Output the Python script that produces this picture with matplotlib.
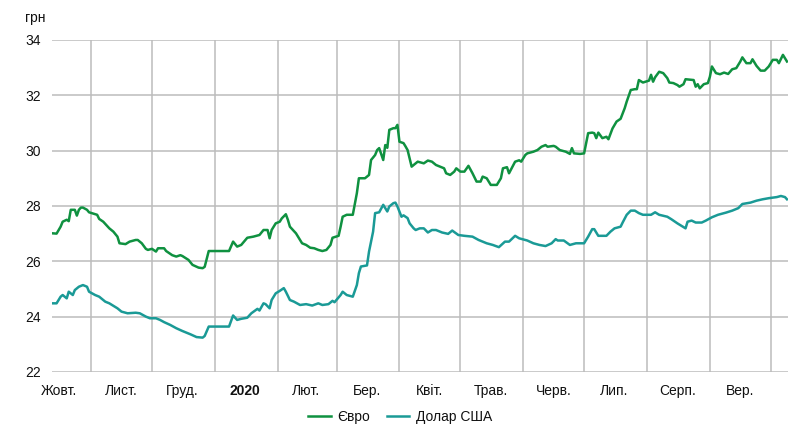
import matplotlib
matplotlib.use("Agg")
import matplotlib.pyplot as plt
import pandas as pd

# курси гривні
euro_dates = [
    "2019-10-13", "2019-10-15", "2019-10-17", "2019-10-18", "2019-10-20", "2019-10-21", "2019-10-22",
    "2019-10-24", "2019-10-25", "2019-10-26", "2019-10-27", "2019-10-28", "2019-10-30", "2019-10-31",
    "2019-11-04", "2019-11-05", "2019-11-07", "2019-11-10", "2019-11-12", "2019-11-14", "2019-11-15",
    "2019-11-18", "2019-11-20", "2019-11-23", "2019-11-24", "2019-11-26", "2019-11-28", "2019-11-29",
    "2019-12-01", "2019-12-03", "2019-12-04", "2019-12-07", "2019-12-08", "2019-12-11", "2019-12-13",
    "2019-12-15", "2019-12-16", "2019-12-19", "2019-12-21", "2019-12-24", "2019-12-26", "2019-12-27",
    "2019-12-29", "2020-01-03", "2020-01-08", "2020-01-10", "2020-01-12", "2020-01-14", "2020-01-17",
    "2020-01-20", "2020-01-23", "2020-01-25", "2020-01-27", "2020-01-28", "2020-01-29", "2020-01-31",
    "2020-02-02", "2020-02-03", "2020-02-05", "2020-02-06", "2020-02-07", "2020-02-10", "2020-02-11",
    "2020-02-13", "2020-02-15", "2020-02-17", "2020-02-19", "2020-02-21", "2020-02-23", "2020-02-25",
    "2020-02-27", "2020-02-28", "2020-03-02", "2020-03-03", "2020-03-04", "2020-03-06", "2020-03-09",
    "2020-03-11", "2020-03-12", "2020-03-15", "2020-03-17", "2020-03-18", "2020-03-20", "2020-03-21",
    "2020-03-22", "2020-03-24", "2020-03-25", "2020-03-26", "2020-03-27", "2020-03-29", "2020-03-30",
    "2020-03-31", "2020-04-01", "2020-04-03", "2020-04-04", "2020-04-05", "2020-04-07", "2020-04-09",
    "2020-04-10", "2020-04-13", "2020-04-15", "2020-04-17", "2020-04-19", "2020-04-23", "2020-04-24",
    "2020-04-26", "2020-04-28", "2020-04-29", "2020-05-01", "2020-05-03", "2020-05-05", "2020-05-07",
    "2020-05-09", "2020-05-11", "2020-05-12", "2020-05-14", "2020-05-16", "2020-05-19", "2020-05-21",
    "2020-05-22", "2020-05-24", "2020-05-25", "2020-05-28", "2020-05-30", "2020-05-31", "2020-06-02",
    "2020-06-03", "2020-06-06", "2020-06-08", "2020-06-10", "2020-06-12", "2020-06-13", "2020-06-16",
    "2020-06-17", "2020-06-19", "2020-06-22", "2020-06-24", "2020-06-25", "2020-06-26", "2020-06-29",
    "2020-07-01", "2020-07-03", "2020-07-05", "2020-07-06", "2020-07-07", "2020-07-08", "2020-07-10",
    "2020-07-12", "2020-07-13", "2020-07-15", "2020-07-17", "2020-07-19", "2020-07-21", "2020-07-22",
    "2020-07-24", "2020-07-26", "2020-07-27", "2020-07-28", "2020-07-30", "2020-08-02", "2020-08-03",
    "2020-08-04", "2020-08-05", "2020-08-07", "2020-08-09", "2020-08-11", "2020-08-12", "2020-08-14",
    "2020-08-16", "2020-08-17", "2020-08-19", "2020-08-20", "2020-08-24", "2020-08-25", "2020-08-26",
    "2020-08-27", "2020-08-29", "2020-08-31", "2020-09-01", "2020-09-02", "2020-09-04", "2020-09-06",
    "2020-09-08", "2020-09-10", "2020-09-12", "2020-09-14", "2020-09-16", "2020-09-17", "2020-09-19",
    "2020-09-21", "2020-09-22", "2020-09-24", "2020-09-26", "2020-09-28", "2020-09-30", "2020-10-02",
    "2020-10-04", "2020-10-05", "2020-10-07", "2020-10-08", "2020-10-09",
]
euro_values = [
    27.01, 27.00, 27.25, 27.43, 27.50, 27.45, 27.86,
    27.86, 27.65, 27.86, 27.94, 27.94, 27.86, 27.77,
    27.68, 27.53, 27.43, 27.19, 27.07, 26.89, 26.65,
    26.62, 26.71, 26.77, 26.77, 26.65, 26.45, 26.41,
    26.45, 26.35, 26.47, 26.47, 26.37, 26.22, 26.17,
    26.22, 26.19, 26.05, 25.87, 25.77, 25.75, 25.80,
    26.37, 26.37, 26.37, 26.71, 26.53, 26.59, 26.85,
    26.89, 26.95, 27.13, 27.13, 26.83, 27.13, 27.37,
    27.43, 27.55, 27.70, 27.50, 27.25, 27.01, 26.89,
    26.65, 26.59, 26.49, 26.47, 26.41, 26.37, 26.41,
    26.59, 26.85, 26.92, 27.25, 27.61, 27.68, 27.68,
    28.46, 29.00, 29.00, 29.12, 29.66, 29.84, 30.02,
    30.09, 29.66, 30.20, 30.10, 30.75, 30.81, 30.81,
    30.93, 30.32, 30.27, 30.15, 30.02, 29.42, 29.54,
    29.60, 29.54, 29.64, 29.60, 29.48, 29.36, 29.18,
    29.12, 29.24, 29.36, 29.24, 29.24, 29.45, 29.18,
    28.88, 28.88, 29.06, 29.00, 28.76, 28.76, 29.00,
    29.36, 29.40, 29.18, 29.60, 29.65, 29.60, 29.84,
    29.90, 29.96, 30.02, 30.14, 30.20, 30.14, 30.17,
    30.14, 30.02, 29.96, 29.88, 30.09, 29.90, 29.88,
    29.90, 30.63, 30.65, 30.63, 30.45, 30.65, 30.45,
    30.50, 30.41, 30.80, 31.05, 31.15, 31.53, 31.77,
    32.19, 32.22, 32.22, 32.55, 32.46, 32.53, 32.74,
    32.49, 32.65, 32.85, 32.80, 32.62, 32.46, 32.44,
    32.37, 32.31, 32.40, 32.58, 32.55, 32.31, 32.40,
    32.25, 32.40, 32.44, 32.67, 33.04, 32.80, 32.76,
    32.82, 32.77, 32.94, 32.98, 33.22, 33.37, 33.16,
    33.16, 33.30, 33.06, 32.89, 32.89, 33.04, 33.28,
    33.28, 33.16, 33.46, 33.34, 33.22,
]

usd_dates = [
    "2019-10-13", "2019-10-15", "2019-10-17", "2019-10-18", "2019-10-20", "2019-10-21", "2019-10-23",
    "2019-10-24", "2019-10-26", "2019-10-28", "2019-10-30", "2019-10-31", "2019-11-03", "2019-11-05",
    "2019-11-08", "2019-11-10", "2019-11-14", "2019-11-16", "2019-11-19", "2019-11-23", "2019-11-25",
    "2019-11-28", "2019-11-30", "2019-12-03", "2019-12-05", "2019-12-07", "2019-12-10", "2019-12-13",
    "2019-12-16", "2019-12-20", "2019-12-23", "2019-12-26", "2019-12-27", "2019-12-29", "2020-01-03",
    "2020-01-08", "2020-01-10", "2020-01-12", "2020-01-14", "2020-01-17", "2020-01-19", "2020-01-22",
    "2020-01-23", "2020-01-25", "2020-01-26", "2020-01-28", "2020-01-29", "2020-01-31", "2020-02-02",
    "2020-02-04", "2020-02-05", "2020-02-07", "2020-02-09", "2020-02-12", "2020-02-15", "2020-02-18",
    "2020-02-21", "2020-02-23", "2020-02-26", "2020-02-28", "2020-02-29", "2020-03-03", "2020-03-04",
    "2020-03-06", "2020-03-09", "2020-03-11", "2020-03-12", "2020-03-13", "2020-03-16", "2020-03-17",
    "2020-03-19", "2020-03-20", "2020-03-22", "2020-03-24", "2020-03-26", "2020-03-27", "2020-03-29",
    "2020-03-30", "2020-03-31", "2020-04-02", "2020-04-03", "2020-04-05", "2020-04-06", "2020-04-08",
    "2020-04-09", "2020-04-11", "2020-04-13", "2020-04-15", "2020-04-17", "2020-04-19", "2020-04-22",
    "2020-04-25", "2020-04-27", "2020-04-30", "2020-05-03", "2020-05-07", "2020-05-10", "2020-05-14",
    "2020-05-17", "2020-05-20", "2020-05-23", "2020-05-25", "2020-05-28", "2020-05-30", "2020-06-03",
    "2020-06-06", "2020-06-09", "2020-06-12", "2020-06-15", "2020-06-17", "2020-06-18", "2020-06-21",
    "2020-06-24", "2020-06-27", "2020-07-01", "2020-07-03", "2020-07-05", "2020-07-06", "2020-07-08",
    "2020-07-12", "2020-07-14", "2020-07-16", "2020-07-19", "2020-07-20", "2020-07-22", "2020-07-24",
    "2020-07-26", "2020-07-28", "2020-07-30", "2020-08-03", "2020-08-05", "2020-08-07", "2020-08-11",
    "2020-08-13", "2020-08-16", "2020-08-18", "2020-08-20", "2020-08-21", "2020-08-23", "2020-08-25",
    "2020-08-28", "2020-08-30", "2020-09-02", "2020-09-05", "2020-09-09", "2020-09-12", "2020-09-15",
    "2020-09-17", "2020-09-21", "2020-09-24", "2020-09-27", "2020-09-30", "2020-10-04", "2020-10-06",
    "2020-10-08", "2020-10-09",
]
usd_values = [
    24.48, 24.48, 24.72, 24.78, 24.66, 24.90, 24.78,
    24.96, 25.08, 25.14, 25.08, 24.90, 24.78, 24.72,
    24.54, 24.48, 24.30, 24.18, 24.12, 24.14, 24.12,
    24.00, 23.94, 23.94, 23.88, 23.80, 23.70, 23.58,
    23.48, 23.36, 23.26, 23.24, 23.30, 23.64, 23.64,
    23.64, 24.04, 23.88, 23.92, 23.96, 24.12, 24.28,
    24.22, 24.48, 24.45, 24.30, 24.60, 24.84, 24.93,
    25.03, 24.90, 24.60, 24.54, 24.42, 24.45, 24.40,
    24.48, 24.42, 24.45, 24.57, 24.52, 24.78, 24.90,
    24.78, 24.72, 25.14, 25.57, 25.81, 25.85, 26.35,
    27.07, 27.74, 27.77, 28.04, 27.80, 27.98, 28.10,
    28.12, 27.98, 27.61, 27.66, 27.56, 27.37, 27.19,
    27.13, 27.19, 27.19, 27.04, 27.13, 27.13, 27.04,
    26.99, 27.11, 26.95, 26.92, 26.89, 26.77, 26.65,
    26.59, 26.51, 26.71, 26.71, 26.92, 26.83, 26.75,
    26.65, 26.59, 26.55, 26.65, 26.80, 26.75, 26.75,
    26.59, 26.65, 26.65, 26.89, 27.16, 27.16, 26.92,
    26.92, 27.07, 27.19, 27.25, 27.40, 27.68, 27.83,
    27.83, 27.74, 27.68, 27.68, 27.77, 27.68, 27.61,
    27.52, 27.37, 27.28, 27.19, 27.43, 27.47, 27.40,
    27.40, 27.47, 27.59, 27.68, 27.76, 27.83, 27.92,
    28.07, 28.12, 28.19, 28.24, 28.28, 28.32, 28.36,
    28.32, 28.24,
]

month_starts = ["2019-11-01", "2019-12-01", "2020-01-01", "2020-02-01", "2020-03-01", "2020-04-01",
                "2020-05-01", "2020-06-01", "2020-07-01", "2020-08-01", "2020-09-01", "2020-10-01"]
label_dates = ["2019-10-16", "2019-11-16", "2019-12-16", "2020-01-16", "2020-02-15", "2020-03-16",
               "2020-04-16", "2020-05-16", "2020-06-16", "2020-07-16", "2020-08-16", "2020-09-16"]
month_labels = ["Жовт.", "Лист.", "Груд.", "2020", "Лют.", "Бер.", "Квіт.", "Трав.",
                "Черв.", "Лип.", "Серп.", "Вер."]
y_ticks = [22, 24, 26, 28, 30, 32, 34]

EURO_COLOR = "#0f9140"
USD_COLOR = "#1a9a96"
GRID = "#bcbcbc"
TEXT = "#111111"

plt.rcParams["font.family"] = ["Liberation Sans", "DejaVu Sans"]

fig = plt.figure(figsize=(7.88, 4.34), dpi=100)
ax = fig.add_axes([0.066, 0.143, 0.934, 0.765])

ax.plot(pd.to_datetime(euro_dates), euro_values, color=EURO_COLOR, lw=1.8, label="Євро")
ax.plot(pd.to_datetime(usd_dates), usd_values, color=USD_COLOR, lw=1.8, label="Долар США")

ax.set_xlim(pd.Timestamp("2019-10-12 18:00"), pd.Timestamp("2020-10-09 12:00"))
ax.set_ylim(22, 34)
ax.set_yticks(y_ticks)

# gridlines at month starts, labels in the middle of each month
ax.set_xticks(pd.to_datetime(month_starts))
ax.set_xticklabels([])
ax.set_xticks(pd.to_datetime(label_dates), labels=month_labels, minor=True)
ax.tick_params(axis="x", which="both", length=0, labelsize=10, pad=9, colors=TEXT)
ax.tick_params(axis="y", length=0, labelsize=10, pad=8, colors=TEXT)
for t in ax.get_xticklabels(minor=True):
    if t.get_text() == "2020":
        t.set_fontweight("bold")

ax.grid(True, which="major", color=GRID, lw=1.1)
ax.set_axisbelow(True)
for s in ax.spines.values():
    s.set_visible(False)

fig.text(0.032, 0.958, "грн", fontsize=10, color=TEXT, va="center", ha="left")

leg = fig.legend(loc="lower center", bbox_to_anchor=(0.508, -0.005), ncol=2, frameon=False,
                 fontsize=10, handlelength=1.6, columnspacing=1.2, handletextpad=0.5)
for t in leg.get_texts():
    t.set_color(TEXT)

fig.savefig("out.png", dpi=100)
